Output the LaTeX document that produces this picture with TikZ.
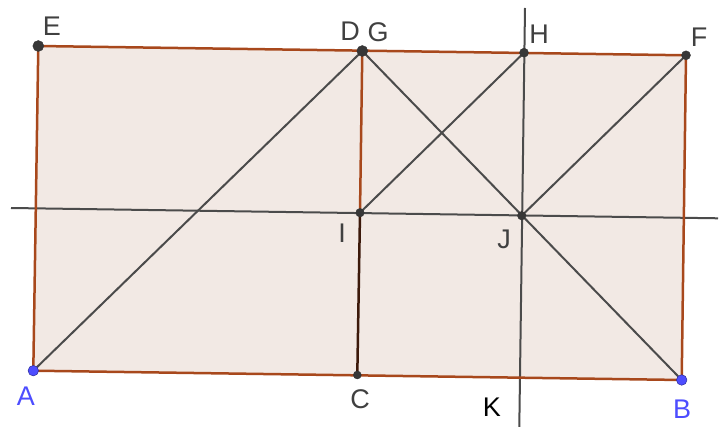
\documentclass[tikz,border=0pt]{standalone}
\usepackage{fontspec}
\setmainfont{Liberation Sans}
\definecolor{brn}{RGB}{168,72,28}
\definecolor{dbrn}{RGB}{60,25,10}
\definecolor{fillc}{RGB}{242,233,228}
\definecolor{lnc}{RGB}{75,75,75}
\definecolor{dotc}{RGB}{55,55,55}
\definecolor{bluec}{RGB}{77,77,255}
\definecolor{txtc}{RGB}{64,64,64}
\begin{document}
\begin{tikzpicture}[x=1pt,y=-1pt,
  edge/.style={draw=brn,line width=2.5pt},
  seg/.style={draw=lnc,line width=2pt},
  pt/.style={circle,fill=dotc,draw=black!80,line width=0.4pt,inner sep=0pt,minimum size=#1},
  bpt/.style={circle,fill=bluec,draw=bluec!60!black,line width=0.5pt,inner sep=0pt,minimum size=#1},
  lbl/.style={text=txtc,font=\fontsize{27}{30}\selectfont,inner sep=0pt},
  blbl/.style={text=bluec,font=\fontsize{27}{30}\selectfont,inner sep=0pt}]
\useasboundingbox (0,0) rectangle (726,427);
\coordinate (A) at (33.3,370.7);
\coordinate (B) at (681.7,380);
\coordinate (C) at (357.3,375);
\coordinate (E) at (38.3,46);
\coordinate (D) at (362.3,51);
\coordinate (H) at (524,52.7);
\coordinate (F) at (686,55.3);
\coordinate (I) at (360,212.7);
\coordinate (J) at (521.7,215.7);
\coordinate (L1) at (11,208);
\coordinate (L2) at (718,218.3);
\coordinate (V1) at (525,8);
\coordinate (V2) at (519.3,427);
% filled rectangle
\fill[fillc] (A) -- (B) -- (F) -- (E) -- cycle;
% long lines
\draw[seg] (L1) -- (L2);
\draw[seg] (V1) -- (V2);
% diagonals
\draw[seg] (A) -- (D);
\draw[seg] (D) -- (B);
\draw[seg] (I) -- (H);
\draw[seg] (J) -- (F);
% rectangle edges
\draw[edge] (A) -- (B);
\draw[edge] (B) -- (F);
\draw[edge] (F) -- (E);
\draw[edge] (E) -- (A);
\draw[edge] (D) -- (I);
\draw[draw=dbrn,line width=2.5pt] (I) -- (C);
% points
\node[pt=11pt] (pE) at (E) {};
\node[pt=11pt] (pD) at (D) {};
\node[pt=9pt] (pH) at (H) {};
\node[pt=9pt] (pF) at (F) {};
\node[pt=8.5pt] (pI) at (I) {};
\node[pt=8.5pt] (pJ) at (J) {};
\node[pt=8pt] (pC) at (C) {};
\node[bpt=10.5pt] (pA) at (A) {};
\node[bpt=10.5pt] (pB) at (B) {};
% labels
\node[lbl] (tE) at (52,26) {E};
\node[lbl] (tD) at (350,31) {D};
\node[lbl] (tG) at (378,32) {G};
\node[lbl] (tH) at (539,34) {H};
\node[lbl] (tF) at (699,37) {F};
\node[lbl] (tI) at (342,233) {I};
\node[lbl] (tJ) at (504,239) {J};
\node[lbl] (tC) at (360,399) {C};
\node[lbl,text=black] (tK) at (492,407) {K};
\node[blbl] (tA) at (26,396) {A};
\node[blbl] (tB) at (682,409) {B};
\end{tikzpicture}
\end{document}
